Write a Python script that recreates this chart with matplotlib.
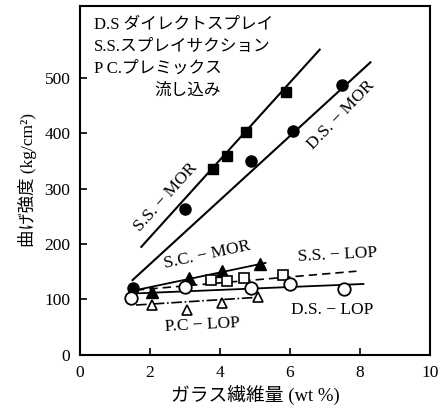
import matplotlib
matplotlib.use("Agg")
import matplotlib.pyplot as plt

plt.rcParams['font.family'] = ['Liberation Serif', 'Noto Sans CJK JP']
plt.rcParams['font.size'] = 12

# D.S. MOR (filled circles)
ds_mor_x = [1.5, 3.0, 4.9, 6.1, 7.5]
ds_mor_y = [121, 263, 350, 404, 488]
ds_mor_line_x = [1.5, 8.3]
ds_mor_line_y = [135, 528]

# S.S. MOR (filled squares)
ss_mor_x = [3.8, 4.2, 4.75, 5.9]
ss_mor_y = [335, 359, 402, 474]
ss_mor_line_x = [1.75, 6.85]
ss_mor_line_y = [195, 551]

# S.C. MOR (filled triangles)
sc_mor_x = [2.05, 3.1, 4.05, 5.15]
sc_mor_y = [114, 138, 152, 164]
sc_mor_line_x = [1.6, 5.3]
sc_mor_line_y = [117, 166]

# S.S. LOP (open squares)
ss_lop_x = [3.75, 4.2, 4.7, 5.8]
ss_lop_y = [135, 134, 139, 144]
ss_lop_line_x = [1.6, 7.9]
ss_lop_line_y = [117, 151]

# D.S. LOP (open circles)
ds_lop_x = [1.45, 3.0, 4.9, 6.0, 7.55]
ds_lop_y = [103, 123, 120, 128, 119]
ds_lop_line_x = [1.6, 8.1]
ds_lop_line_y = [111, 128]

# P.C. LOP (open triangles)
pc_lop_x = [2.05, 3.05, 4.05, 5.1]
pc_lop_y = [90, 81, 93, 104]
pc_lop_line_x = [1.6, 5.1]
pc_lop_line_y = [90, 104]

fig = plt.figure(figsize=(4.4, 4.18), dpi=100)
ax = fig.add_axes([0.182, 0.151, 0.795, 0.835])

k = 'black'
ax.plot(ds_mor_line_x, ds_mor_line_y, '-', color=k, lw=1.5)
ax.plot(ss_mor_line_x, ss_mor_line_y, '-', color=k, lw=1.5)
ax.plot(sc_mor_line_x, sc_mor_line_y, '-', color=k, lw=1.3)
ax.plot(ss_lop_line_x, ss_lop_line_y, '--', color=k, lw=1.2, dashes=(5, 3))
ax.plot(ds_lop_line_x, ds_lop_line_y, '-', color=k, lw=1.3)
ax.plot(pc_lop_line_x, pc_lop_line_y, '-.', color=k, lw=1.2)

ax.plot(ds_mor_x, ds_mor_y, 'o', color=k, ms=8, ls='none')
ax.plot(ss_mor_x, ss_mor_y, 's', color=k, ms=7.5, ls='none')
ax.plot(sc_mor_x, sc_mor_y, '^', color=k, ms=8, ls='none')
ax.plot(ss_lop_x, ss_lop_y, 's', mfc='white', mec=k, mew=1.2, ms=7, ls='none')
ax.plot(ds_lop_x, ds_lop_y, 'o', mfc='white', mec=k, mew=1.3, ms=9, ls='none')
ax.plot(pc_lop_x, pc_lop_y, '^', mfc='white', mec=k, mew=1.2, ms=7, ls='none')

lf = 12.5
ax.text(2.45, 285, 'S.S. − MOR', rotation=48, ha='center', va='center', fontsize=lf)
ax.text(7.45, 432, 'D.S. − MOR', rotation=46, ha='center', va='center', fontsize=lf)
ax.text(3.65, 180, 'S.C. − MOR', rotation=12, ha='center', va='center', fontsize=lf)
ax.text(7.35, 180, 'S.S. − LOP', rotation=3, ha='center', va='center', fontsize=lf)
ax.text(7.2, 81, 'D.S. − LOP', ha='center', va='center', fontsize=lf)
ax.text(3.5, 54, 'P.C − LOP', rotation=3, ha='center', va='center', fontsize=lf)

legend_lines = ['D.S ダイレクトスプレイ', 'S.S.スプレイサクション', 'P C.プレミックス']
legend_y = [595, 556, 517]
for s, yv in zip(legend_lines, legend_y):
    ax.text(0.4, yv, s, ha='left', va='center', fontsize=12)
ax.text(2.12, 476, '流し込み', ha='left', va='center', fontsize=12)

ax.set_xlim(0, 10)
ax.set_ylim(0, 630)
ax.set_xticks([0, 2, 4, 6, 8, 10])
ax.set_yticks([0, 100, 200, 300, 400, 500])
ax.tick_params(direction='in', length=5, width=1.2, pad=7, labelsize=12.5)
for sp in ax.spines.values():
    sp.set_linewidth(1.5)

ax.set_xlabel('ガラス繊維量 (wt %)', fontsize=13.5, labelpad=3)
ax.set_ylabel('曲げ強度 (kg/cm²)', fontsize=12.5, labelpad=5)

fig.savefig('out.png', dpi=100)
